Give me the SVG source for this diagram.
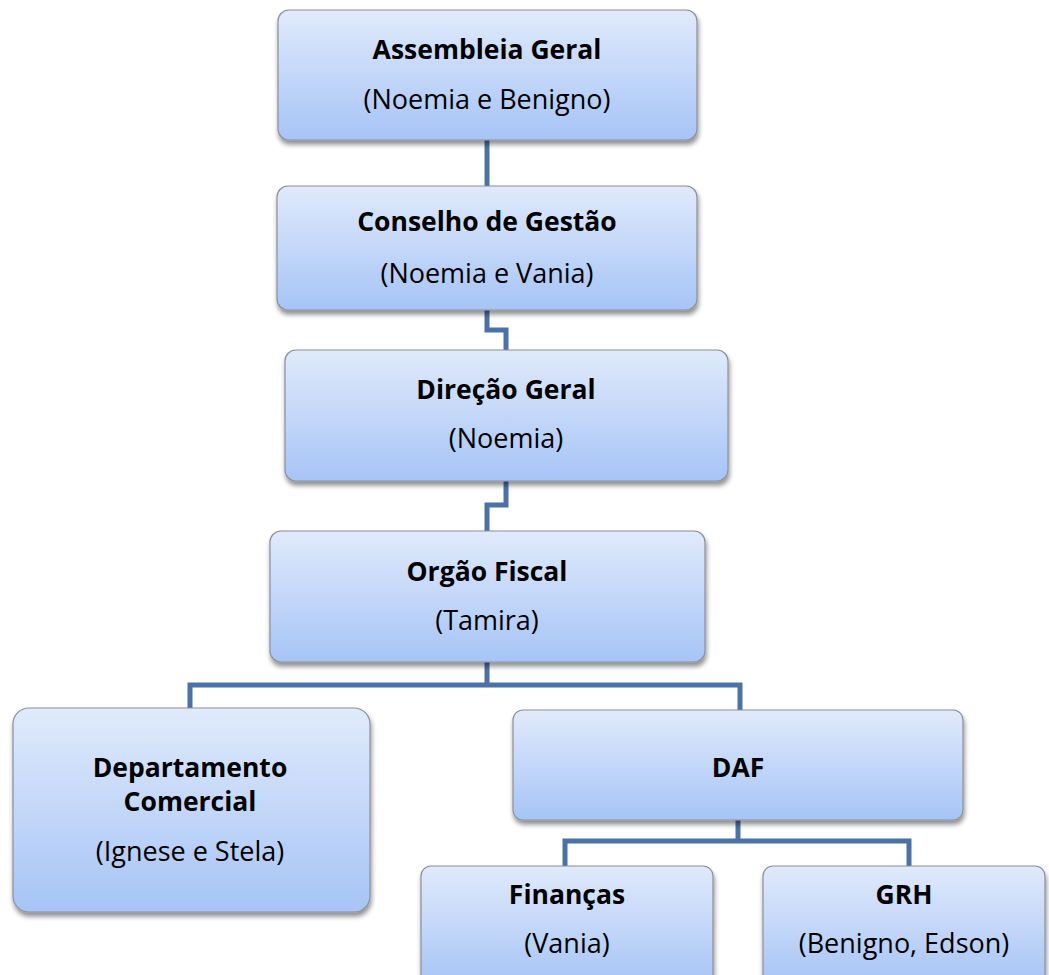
<svg xmlns="http://www.w3.org/2000/svg" width="1049" height="975" viewBox="0 0 1049 975">
<defs>
<linearGradient id="g" x1="0" y1="0" x2="0" y2="1">
<stop offset="0" stop-color="#e0eafb"/>
<stop offset="1" stop-color="#a6c4f6"/>
</linearGradient>
<filter id="sh" x="-5%" y="-5%" width="110%" height="120%">
<feGaussianBlur in="SourceAlpha" stdDeviation="2.5"/>
<feOffset dx="1" dy="4" result="b"/>
<feComponentTransfer><feFuncA type="linear" slope="0.45"/></feComponentTransfer>
<feMerge><feMergeNode/><feMergeNode in="SourceGraphic"/></feMerge>
</filter>
</defs>
<style>
.box{fill:url(#g);stroke:#8b9099;stroke-width:1.2;filter:url(#sh)}
.t{font-family:"Open Sans","Liberation Sans",sans-serif;font-size:26.5px;fill:#000;text-anchor:middle}
.b{font-weight:bold}
.r{font-size:27px}
.c{fill:none;stroke:#4a72a8;stroke-width:5}
</style>
<rect width="1049" height="975" fill="#fff"/>
<g id="connectors">
<path class="c" d="M487 140V186"/>
<path class="c" d="M487 310V330H506V350"/>
<path class="c" d="M506 481V505H487V531"/>
<path class="c" d="M487 662V685M190 708V685H740V710"/>
<path class="c" d="M738 820V841M565 866V841H909V866"/>
</g>
<g id="assembleia">
<rect class="box" x="278" y="10" width="419" height="130" rx="11"/>
<text class="t b" x="487" y="59">Assembleia Geral</text>
<text class="t r" x="487" y="109">(Noemia e Benigno)</text>
</g>
<g id="conselho">
<rect class="box" x="277" y="186" width="420" height="124" rx="11"/>
<text class="t b" x="487" y="231">Conselho de Gestão</text>
<text class="t r" x="487" y="283">(Noemia e Vania)</text>
</g>
<g id="direcao">
<rect class="box" x="285" y="350" width="443" height="131" rx="11"/>
<text class="t b" x="506" y="399">Direção Geral</text>
<text class="t r" x="506" y="448">(Noemia)</text>
</g>
<g id="orgao">
<rect class="box" x="270" y="531" width="435" height="131" rx="11"/>
<text class="t b" x="487" y="581">Orgão Fiscal</text>
<text class="t r" x="487" y="630">(Tamira)</text>
</g>
<g id="comercial">
<rect class="box" x="13" y="708" width="357" height="204" rx="16"/>
<text class="t b" x="190" y="777">Departamento</text>
<text class="t b" x="190" y="811">Comercial</text>
<text class="t r" x="190" y="861">(Ignese e Stela)</text>
</g>
<g id="daf">
<rect class="box" x="513" y="710" width="450" height="110" rx="10"/>
<text class="t b" x="738" y="777">DAF</text>
</g>
<g id="financas">
<rect class="box" x="421" y="866" width="292" height="120" rx="10"/>
<text class="t b" x="567" y="904">Finanças</text>
<text class="t r" x="567" y="953">(Vania)</text>
</g>
<g id="grh">
<rect class="box" x="763" y="866" width="282" height="120" rx="10"/>
<text class="t b" x="904" y="904">GRH</text>
<text class="t r" x="904" y="953">(Benigno, Edson)</text>
</g>
</svg>
